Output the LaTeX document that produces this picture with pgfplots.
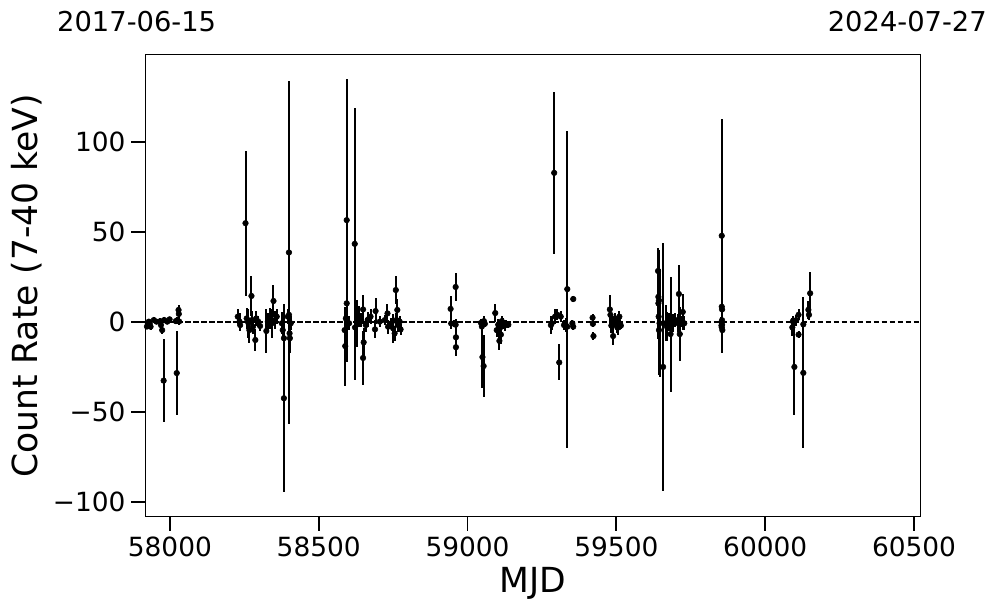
\documentclass[border=0pt]{standalone}
\usepackage{fontspec}
\setmainfont{DejaVu Sans}
\usepackage{pgfplots}
\pgfplotsset{compat=1.18}
\usepackage{pgfplotstable}

\pgfplotstableread{
x y e
57923 -2.5 1.5
57926 -0.7 1.5
57929 0.2 1.5
57932 -1.0 1.5
57935 -2.6 2
57946 1.1 1.5
57955 0.2 1.5
57968 0.5 1.5
57970 -1.7 2
57974 -4.5 2
57979 -32.6 23
57981 1.1 1.5
57991 0.2 1.5
57999 1.5 1.5
58020 0.5 1.5
58023 -28.4 23.3
58025 1.0 2
58029 6.7 3
58030 4.5 3
58031 0.3 2
58228 3 4
58234 0.2 5
58236 -1.7 3
58254 55 40.3
58258 2 6
58264 -0.7 8
58267 -4.5 7
58274 14.5 11
58276 1.1 5
58279 -2.6 4
58287 -10 6
58290 2 4
58297 0.2 3
58303 -2.2 3
58324 -5 12
58329 0.2 5
58336 2 6
58342 -0.7 8
58348 11.7 9
58353 1.1 5
58359 3 4
58376 -0.7 6
58379 -4.5 5
58383 -9 8
58383 -42.4 52.4
58396 3 4
58400 38.7 95.7
58400 4 3
58402 -6.3 6
58403 -9 8
58406 -0.7 4
58587 -4.5 8
58589 -13.4 22
58591 2 5
58594 56.7 78.8
58594 10.4 5
58602 -0.7 4
58621 43.5 75.6
58622 -3 6
58630 -1 13
58635 3 6
58643 1.1 4
58649 7 8
58649 -20 15
58651 -11.3 8
58658 -1.7 4
58666 1.5 4
58674 3 4
58689 -4.1 5
58691 6.1 7
58705 0.2 3
58722 1.1 3
58731 4.8 5
58733 -2.6 4
58744 -0.7 3
58750 -3.5 8
58755 -6.3 4
58759 17.8 8
58761 1.1 4
58764 6.7 6
58766 -1.7 4
58772 0.2 3
58775 -4.1 3
58943 7.3 7
58945 -0.8 3
58955 -1.0 2
58960 19.5 8
58960 -1.5 3
58961 -8.5 5
58961 -14 5
59045 -0.5 2
59048 -2.5 3
59050 -19.5 17
59054 -24.5 17
59055 0.5 3
59058 -1 2
59093 5 5
59098 -4.5 4
59103 -1.5 3
59107 -10.5 5
59110 -3 4
59112 -7 5
59115 0.5 3
59120 -1 3
59125 -2 3
59130 -1 2
59137 -1.5 2
59280 -1.7 5
59283 -0.7 4
59291 83 45
59294 3 4
59302 4 3
59308 -22.5 10
59313 3 3
59324 -1.7 3
59330 -1.7 4
59335 18.3 88.2
59335 -2.6 3
59352 -0.7 2
59355 12.8 1.5
59355 -2.6 2
59420 2.4 2
59421 -1 2
59423 -7.8 2
59478 7 8
59480 4 3
59483 -2 4
59486 1 3
59489 -7.8 5
59493 0 3
59496 2 3
59500 -1 3
59503 -3 3
59505 1 2
59507 -3 4
59510 3 3
59512 -1 2
59515 -2 2
59640 28.4 13
59641 14 20
59641 10.4 20
59642 3 25
59643 12 28
59643 -4.5 25
59645 -0.7 30
59657 -25 69
59665 -0.7 10
59670 -2.6 8
59678 0.2 5
59682 -6.7 32
59689 -0.7 5
59698 1.1 4
59707 -0.7 5
59710 15.6 16
59713 -6.7 15
59718 0.2 3
59723 5.6 10
59728 -0.7 4
59853 0 3
59853 -2 3
59854 48 65
59854 8.5 3
59854 -3 5
59855 7 3
59855 -1.5 4
59855 1 4
59856 -4.5 8
60091 -3 5
60093 0.5 3
60096 -0.5 3
60098 -25 27
60104 1 3
60112 4 3
60112 -7 2
60128 -28.3 42
60128 -1.3 3
60145 6.8 5
60147 4 3
60151 16 12
}\lc

\begin{document}
\begin{tikzpicture}
\path[use as bounding box] (-109.125pt,-72pt) rectangle (638.625pt,387.75pt);
\begin{axis}[
  scale only axis, width=580.875pt, height=346.5pt,
  at={(0pt,0pt)}, anchor=south west,
  xmin=57918, xmax=60520, ymin=-108.5, ymax=148.6,
  scaled x ticks=false, scaled y ticks=false,
  axis line style={line width=0.75pt},
  xtick={58000,58500,59000,59500,60000,60500},
  xticklabels={58000,58500,59000,59500,60000,60500},
  ytick={-100,-50,0,50,100},
  yticklabels={−100,−50,0,50,100},
  xtick pos=bottom, ytick pos=left, tick align=outside,
  major tick length=10.5pt,
  every tick/.style={black, line width=1.4pt},
  tick label style={font=\fontsize{19.8}{23}\selectfont},
  xticklabel style={yshift=-1pt},
  yticklabel style={xshift=-1pt},
  xlabel={MJD}, ylabel={Count Rate (7-40 keV)},
  label style={font=\fontsize{25.9}{30}\selectfont},
  xlabel style={at={(axis description cs:0.5,-0.143)}, anchor=center},
  ylabel style={at={(axis description cs:-0.153,0.5)}, anchor=center},
]
\addplot[black, line width=1.1pt, dash pattern=on 4.2pt off 1.8pt] coordinates {(57918,0) (60520,0)};
\addplot[black, only marks, mark=*, mark size=2.1pt,
  error bars/.cd, y dir=both, y explicit, error mark=none,
  error bar style={line width=1.5pt, black}]
  table[x=x, y=y, y error=e] {\lc};
\end{axis}
\node[anchor=west, inner sep=0pt, font=\fontsize{20.5}{24}\selectfont] at (-66.4pt,371.25pt) {2017-06-15};
\node[anchor=east, inner sep=0pt, font=\fontsize{20.5}{24}\selectfont] at (631.1pt,371.25pt) {2024-07-27};
\end{tikzpicture}
\end{document}
